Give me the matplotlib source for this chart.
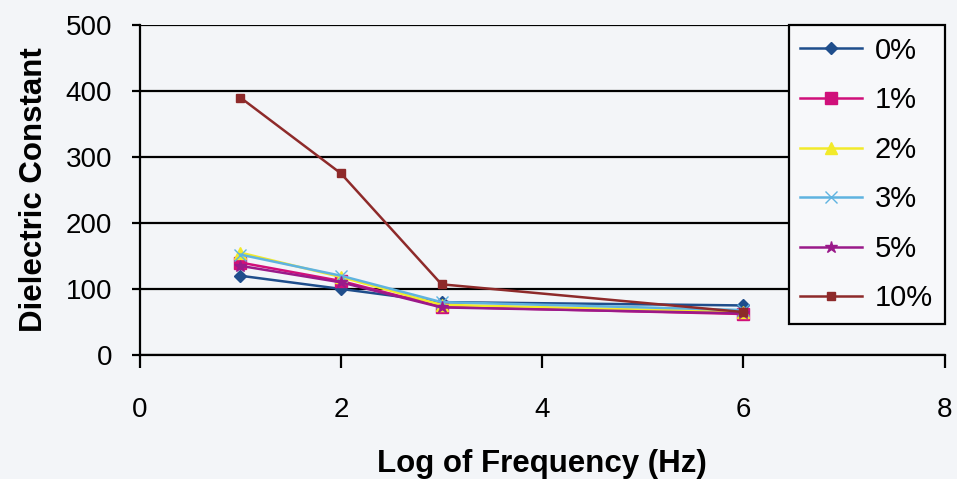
import matplotlib.pyplot as plt

plt.rcParams['font.family'] = ['Liberation Sans', 'DejaVu Sans']

log_freq = [1, 2, 3, 6]
series_names = ["0%", "1%", "2%", "3%", "5%", "10%"]
vals_0 = [120, 100, 80, 75]
vals_1 = [140, 112, 73, 62]
vals_2 = [155, 118, 76, 65]
vals_3 = [152, 120, 80, 68]
vals_5 = [135, 110, 72, 63]
vals_10 = [390, 275, 107, 65]

styles = [
    (vals_0, "#1f4e8c", "D", 6),
    (vals_1, "#d0107a", "s", 8),
    (vals_2, "#f2ea2a", "^", 8),
    (vals_3, "#5fb3e0", "x", 8),
    (vals_5, "#9a1a8a", "*", 9),
    (vals_10, "#8e2a2a", "s", 6),
]

fig = plt.figure(figsize=(9.57, 4.79), dpi=100)
fig.patch.set_facecolor("#f3f5f8")
ax = fig.add_axes([0.146, 0.259, 0.841, 0.689])
ax.set_facecolor("#f3f5f8")

for name, (vals, color, marker, ms) in zip(series_names, styles):
    ax.plot(log_freq, vals, color=color, marker=marker, markersize=ms,
            linewidth=1.8, label=name)

ax.set_xlim(0, 8)
ax.set_ylim(0, 500)
ax.set_xticks([0, 2, 4, 6, 8])
ax.set_yticks([0, 100, 200, 300, 400, 500])
ax.yaxis.grid(True, color="black", linewidth=1.6)
ax.set_axisbelow(True)
for side in ["top", "right"]:
    ax.spines[side].set_visible(False)
ax.spines["left"].set_linewidth(1.6)
ax.spines["bottom"].set_linewidth(1.6)
ax.tick_params(labelsize=20, width=1.6, color="black")
ax.tick_params(axis="x", length=9, pad=21)
ax.tick_params(axis="y", length=6, pad=14)

ax.set_xlabel("Log of Frequency (Hz)", fontsize=22.5, fontweight="bold", labelpad=19)
ax.set_ylabel("Dielectric Constant", fontsize=22.5, fontweight="bold", labelpad=12)

leg = ax.legend(loc="upper right", bbox_to_anchor=(1.0, 1.0), borderaxespad=0,
                fontsize=21, frameon=True, fancybox=False, edgecolor="black",
                handlelength=2.1, handletextpad=0.45, labelspacing=0.74,
                borderpad=0.4)
leg.get_frame().set_linewidth(1.6)
leg.get_frame().set_facecolor("#f7f8fa")
leg.get_frame().set_alpha(1.0)

fig.savefig("out.png", dpi=100, facecolor=fig.get_facecolor())
